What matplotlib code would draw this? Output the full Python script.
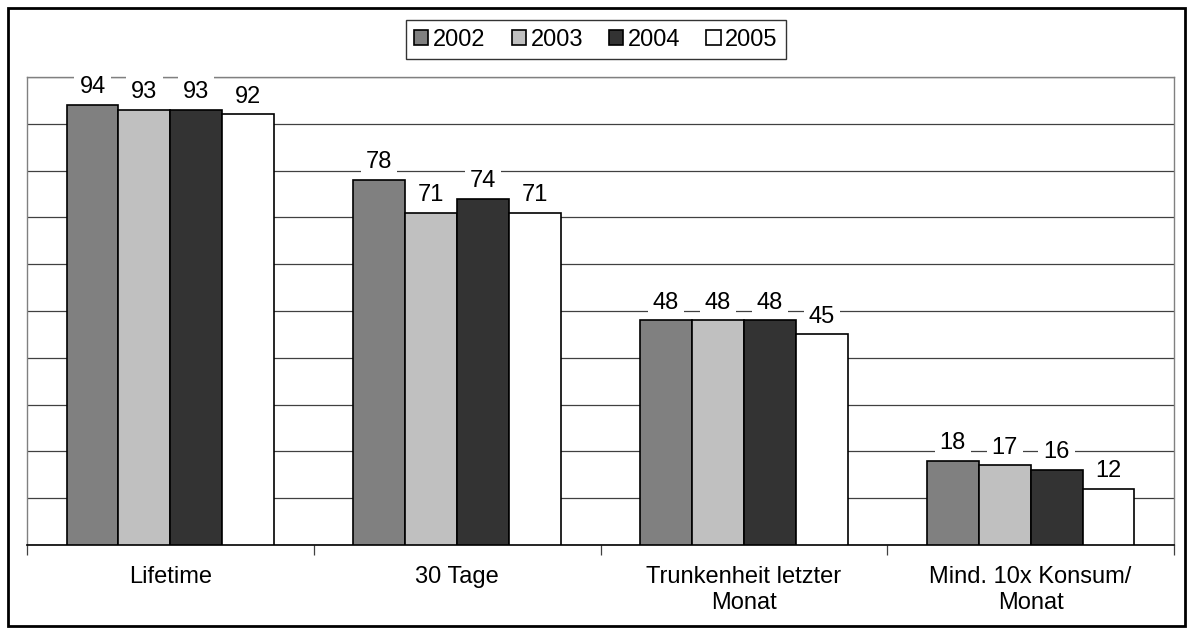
import matplotlib.pyplot as plt
from matplotlib.patches import Rectangle
import numpy as np

plt.rcParams['font.family'] = ['Liberation Sans', 'DejaVu Sans']

categories = ['Lifetime', '30 Tage', 'Trunkenheit letzter\nMonat', 'Mind. 10x Konsum/\nMonat']
years = ['2002', '2003', '2004', '2005']
v2002 = [94, 78, 48, 18]
v2003 = [93, 71, 48, 17]
v2004 = [93, 74, 48, 16]
v2005 = [92, 71, 45, 12]
series = [v2002, v2003, v2004, v2005]
colors = ['#808080', '#c0c0c0', '#333333', '#ffffff']

fig = plt.figure(figsize=(11.94, 6.35), dpi=100)
ax = fig.add_axes([27 / 1194, 1 - 545 / 635, (1174 - 27) / 1194, (545 - 77) / 635])

# outer frame around the whole chart
fig.patches.append(Rectangle((8 / 1194, 1 - 626 / 635), 1177 / 1194, 618 / 635,
                             transform=fig.transFigure, fill=False,
                             edgecolor='black', linewidth=2))

x = np.arange(len(categories))
w = 0.181
for i, (vals, c) in enumerate(zip(series, colors)):
    pos = x + (i - 1.5) * w
    bars = ax.bar(pos, vals, width=w, color=c, edgecolor='black', linewidth=1.2,
                  label=years[i], zorder=3)
    for b, v in zip(bars, vals):
        ax.text(b.get_x() + b.get_width() / 2, v + 3.8, str(v), ha='center', va='center',
                fontsize=17, zorder=4,
                bbox=dict(facecolor='white', edgecolor='none', pad=3.5))

ax.set_xlim(-0.5, len(categories) - 0.5)
ax.set_ylim(0, 100)
ax.set_yticks(np.arange(0, 101, 10))
ax.yaxis.grid(True, color='#404040', linewidth=0.9, zorder=0)
ax.tick_params(axis='y', length=0, labelleft=False)

ax.set_xticks(x)
ax.set_xticklabels(categories, fontsize=17, linespacing=1.25)
ax.tick_params(axis='x', length=0, pad=15)
ax.set_xticks(np.arange(-0.5, len(categories)), minor=True)
ax.tick_params(axis='x', which='minor', length=7, width=0.9, color='#404040')

for side in ['top', 'right', 'left']:
    ax.spines[side].set_color('#808080')
    ax.spines[side].set_linewidth(1)
ax.spines['bottom'].set_color('black')
ax.spines['bottom'].set_linewidth(1.2)

leg = fig.legend(loc='center', bbox_to_anchor=(596 / 1194, 1 - 39.5 / 635), ncol=4,
                 fontsize=17, frameon=True, fancybox=False, edgecolor='black',
                 handlelength=0.6, handleheight=0.6, handletextpad=0.2,
                 columnspacing=1.1, borderpad=0.35)
leg.get_frame().set_linewidth(1)

fig.savefig('out.png', dpi=100, facecolor='white')
